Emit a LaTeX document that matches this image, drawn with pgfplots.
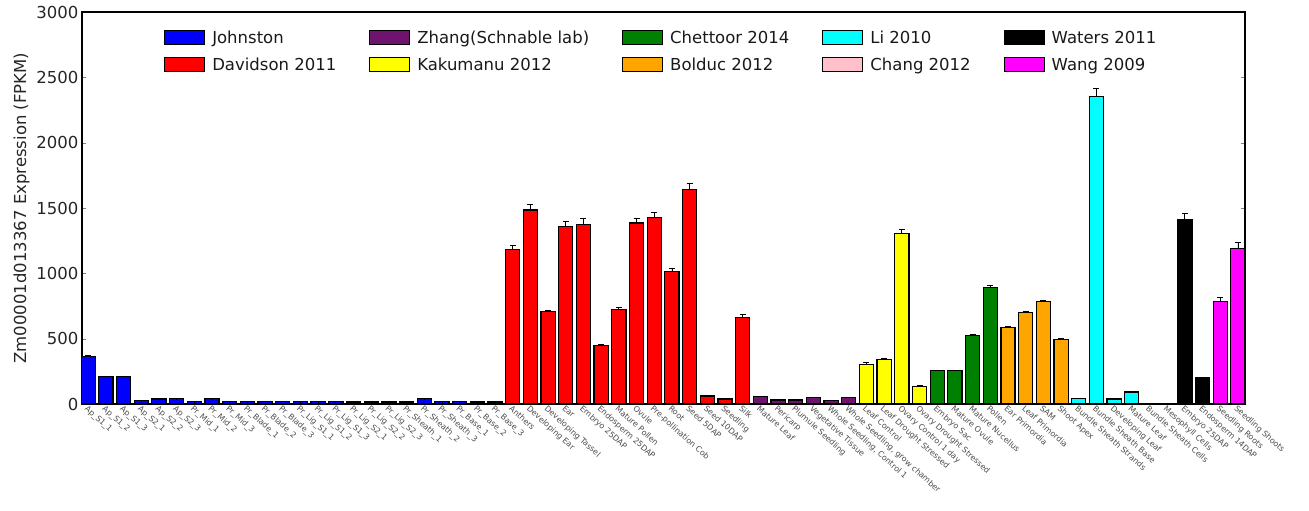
\documentclass[border=0pt]{standalone}
\usepackage{fontspec}
\setmainfont{DejaVu Sans}
\usepackage{pgfplots}
\pgfplotsset{compat=1.18}
\definecolor{cjohn}{RGB}{0,0,255}
\definecolor{cdav}{RGB}{255,0,0}
\definecolor{czhang}{RGB}{110,20,110}
\definecolor{ckak}{RGB}{255,255,0}
\definecolor{cchet}{RGB}{0,128,0}
\definecolor{cbol}{RGB}{255,165,0}
\definecolor{cli}{RGB}{0,255,255}
\definecolor{cchang}{RGB}{255,192,203}
\definecolor{cwat}{RGB}{0,0,0}
\definecolor{cwang}{RGB}{255,0,255}
\begin{document}
\begin{tikzpicture}
\begin{axis}[name=ax, scale only axis, width=1163pt, height=392pt,
 ybar, bar width=0.8, bar shift=0pt,
 xmin=-0.35, xmax=65.4, ymin=0, ymax=3000,
 ytick={0,500,...,3000},
 xtick={0,...,65},
 xticklabels={{Ap\_S1\_1},{Ap\_S1\_2},{Ap\_S1\_3},{Ap\_S2\_1},{Ap\_S2\_2},{Ap\_S2\_3},
 {Pr\_Mid\_1},{Pr\_Mid\_2},{Pr\_Mid\_3},{Pr\_Blade\_1},{Pr\_Blade\_2},{Pr\_Blade\_3},
 {Pr\_Lig\_S1\_1},{Pr\_Lig\_S1\_2},{Pr\_Lig\_S1\_3},{Pr\_Lig\_S2\_1},{Pr\_Lig\_S2\_2},{Pr\_Lig\_S2\_3},
 {Pr\_Sheath\_1},{Pr\_Sheath\_2},{Pr\_Sheath\_3},{Pr\_Base\_1},{Pr\_Base\_2},{Pr\_Base\_3},
 {Anthers},{Developing Ear},{Developing Tassel},{Ear},{Embryo 25DAP},{Endosperm 25DAP},
 {Mature Pollen},{Ovule},{Pre-pollination Cob},{Root},{Seed 5DAP},{Seed 10DAP},{Seedling},{Silk},
 {Mature Leaf},{Pericarp},{Plumule Seedling},{Vegetative Tissue},{Whole Seedling, Control 1},{Whole Seedling, grow chamber},
 {Leaf Control},{Leaf Drought Stressed},{Ovary Control 1 day},{Ovary Drought Stressed},
 {Embryo Sac},{Mature Ovule},{Mature Nucellus},{Pollen},
 {Ear Primordia},{Leaf Primordia},{SAM},{Shoot Apex},
 {Bundle Sheath Strands},{Bundle Sheath Base},{Developing Leaf},{Mature Leaf},
 {Bundle Sheath Cells},{Mesophyll Cells},
 {Embryo 25DAP},{Endosperm 14DAP},
 {Seedling Roots},{Seedling Shoots}},
 xticklabel style={rotate=-42, anchor=north west, font=\fontsize{8}{9}\selectfont, text=black!70, inner sep=0.5pt},
 yticklabel style={font=\fontsize{16.5}{18}\selectfont, text=black!85},
 ylabel={Zm00001d013367 Expression (FPKM)},
 ylabel style={font=\fontsize{16.5}{18}\selectfont, text=black!85},
 axis line style={line width=1.5pt},
 tick align=inside, major tick length=4pt,
 xtick style={draw=none},
 /pgf/number format/assume math mode=true,
 /pgf/number format/1000 sep={},
 every axis plot post/.append style={draw=black, line width=1.2pt,
   legend image code/.code={\draw[##1, line width=1pt] (0pt,-6pt) rectangle (40pt,8pt);}},
 error bars/y dir=plus, error bars/y explicit,
 error bars/error mark options={rotate=90, mark size=3pt, line width=0.8pt, black},
 error bars/error bar style={line width=0.8pt, black},
 legend columns=5,
 legend cell align=left,
 legend style={draw=none, fill=none, at={(axis description cs:0.068,0.962)}, anchor=north west,
   font=\fontsize{16.5}{18}\selectfont, text=black!90,
   /tikz/every odd column/.append style={column sep=5pt},
   /tikz/every even column/.append style={column sep=31pt},
   /tikz/row sep=9pt},
]
% Johnston
\addplot[fill=cjohn] coordinates {
(0,365)+-(0,6) (1,210)+-(0,5) (2,208)+-(0,5) (3,25)+-(0,2) (4,38)+-(0,2) (5,40)+-(0,2)
(6,18)+-(0,1) (7,40)+-(0,2) (8,18)+-(0,1) (9,18)+-(0,1) (10,20)+-(0,1) (11,20)+-(0,1)
(12,18)+-(0,1) (13,18)+-(0,1) (14,18)+-(0,1) (15,16)+-(0,1) (16,16)+-(0,1) (17,16)+-(0,1)
(18,16)+-(0,1) (19,40)+-(0,2) (20,18)+-(0,1) (21,18)+-(0,1) (22,16)+-(0,1) (23,16)+-(0,1)};
\addlegendentry{Johnston}
% Zhang
\addplot[fill=czhang] coordinates {
(38,55)+-(0,3) (39,30)+-(0,2) (40,30)+-(0,2) (41,50)+-(0,3) (42,25)+-(0,2) (43,50)+-(0,3)};
\addlegendentry{Zhang(Schnable lab)}
% Chettoor
\addplot[fill=cchet] coordinates {
(48,255)+-(0,5) (49,255)+-(0,5) (50,525)+-(0,10) (51,890)+-(0,15)};
\addlegendentry{Chettoor 2014}
% Li
\addplot[fill=cli] coordinates {
(56,42)+-(0,3) (57,2355)+-(0,60) (58,38)+-(0,3) (59,92)+-(0,4)};
\addlegendentry{Li 2010}
% Waters
\addplot[fill=cwat] coordinates {
(62,1415)+-(0,40) (63,200)+-(0,5)};
\addlegendentry{Waters 2011}
% Davidson
\addplot[fill=cdav] coordinates {
(24,1185)+-(0,25) (25,1485)+-(0,45) (26,705)+-(0,15) (27,1360)+-(0,40) (28,1375)+-(0,45)
(29,448)+-(0,10) (30,725)+-(0,15) (31,1385)+-(0,35) (32,1425)+-(0,45) (33,1015)+-(0,25)
(34,1640)+-(0,45) (35,62)+-(0,4) (36,38)+-(0,3) (37,665)+-(0,20)};
\addlegendentry{Davidson 2011}
% Kakumanu
\addplot[fill=ckak] coordinates {
(44,305)+-(0,10) (45,340)+-(0,10) (46,1305)+-(0,30) (47,135)+-(0,5)};
\addlegendentry{Kakumanu 2012}
% Bolduc
\addplot[fill=cbol] coordinates {
(52,585)+-(0,10) (53,700)+-(0,12) (54,783)+-(0,12) (55,495)+-(0,10)};
\addlegendentry{Bolduc 2012}
% Chang
\addplot[fill=cchang] coordinates {
(60,3)+-(0,0) (61,3)+-(0,0)};
\addlegendentry{Chang 2012}
% Wang
\addplot[fill=cwang] coordinates {
(64,785)+-(0,30) (65,1190)+-(0,50)};
\addlegendentry{Wang 2009}
\end{axis}
\pgfresetboundingbox
\path ([shift={(-82pt,-106pt)}]ax.south west) rectangle ([shift={(64pt,12pt)}]ax.north east);
\end{tikzpicture}
\end{document}
